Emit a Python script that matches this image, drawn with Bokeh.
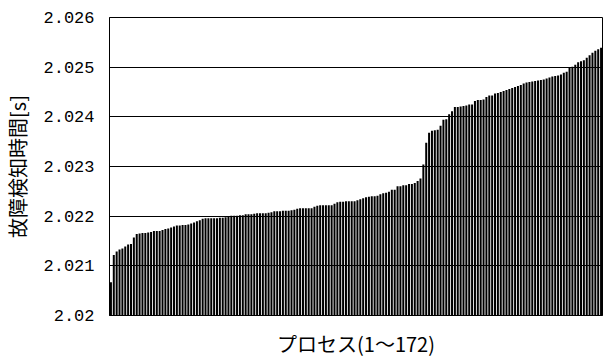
from bokeh.plotting import figure
from bokeh.models import ColumnDataSource, Range1d, FixedTicker, CustomJSTickFormatter
from bokeh.embed import file_html
from bokeh.resources import INLINE

# Fault detection time of each process, sorted ascending [s]
detect_times = [
    2.02067, 2.02122, 2.02129, 2.02133, 2.02135, 2.02139, 2.02143, 2.02144, 2.02157, 2.02164,
    2.02165, 2.02166, 2.02166, 2.02167, 2.02168, 2.02170, 2.02170, 2.02170, 2.02172, 2.02174,
    2.02175, 2.02177, 2.02179, 2.02181, 2.02181, 2.02182, 2.02182, 2.02183, 2.02185, 2.02187,
    2.02190, 2.02192, 2.02195, 2.02196, 2.02196, 2.02196, 2.02196, 2.02196, 2.02197, 2.02197,
    2.02198, 2.02199, 2.02201, 2.02201, 2.02201, 2.02202, 2.02202, 2.02204, 2.02204, 2.02204,
    2.02205, 2.02206, 2.02206, 2.02206, 2.02206, 2.02207, 2.02208, 2.02210, 2.02210, 2.02210,
    2.02211, 2.02211, 2.02211, 2.02212, 2.02213, 2.02215, 2.02216, 2.02216, 2.02216, 2.02216,
    2.02216, 2.02219, 2.02221, 2.02222, 2.02222, 2.02222, 2.02222, 2.02222, 2.02225, 2.02228,
    2.02229, 2.02229, 2.02230, 2.02230, 2.02230, 2.02230, 2.02232, 2.02234, 2.02236, 2.02238,
    2.02239, 2.02240, 2.02240, 2.02241, 2.02244, 2.02246, 2.02247, 2.02249, 2.02253, 2.02253,
    2.02260, 2.02260, 2.02262, 2.02262, 2.02265, 2.02265, 2.02267, 2.02271, 2.02276, 2.02304,
    2.02348, 2.02368, 2.02372, 2.02373, 2.02374, 2.02382, 2.02394, 2.02395, 2.02405, 2.02411,
    2.02420, 2.02420, 2.02421, 2.02422, 2.02423, 2.02425, 2.02425, 2.02432, 2.02434, 2.02434,
    2.02435, 2.02440, 2.02443, 2.02443, 2.02447, 2.02448, 2.02450, 2.02452, 2.02454, 2.02456,
    2.02458, 2.02460, 2.02462, 2.02464, 2.02467, 2.02469, 2.02470, 2.02471, 2.02472, 2.02473,
    2.02474, 2.02475, 2.02477, 2.02479, 2.02481, 2.02482, 2.02483, 2.02485, 2.02489, 2.02491,
    2.02499, 2.02501, 2.02505, 2.02510, 2.02512, 2.02514, 2.02519, 2.02524, 2.02529, 2.02533,
    2.02536, 2.02539,
]
process_ids = list(range(1, len(detect_times) + 1))
y_ticks = [2.020, 2.021, 2.022, 2.023, 2.024, 2.025, 2.026]
x_title = "プロセス(1〜172)"
y_title = "故障検知時間[s]"

source = ColumnDataSource(data=dict(x=process_ids, top=detect_times))

p = figure(
    width=603, height=360,
    output_backend="svg", toolbar_location=None,
    x_range=Range1d(0.5, len(detect_times) + 0.5),
    y_range=Range1d(y_ticks[0], y_ticks[-1]),
    min_border_left=106, min_border_right=1, min_border_top=17, min_border_bottom=44,
)
p.background_fill_color = "white"
p.border_fill_color = "white"
p.outline_line_color = "black"
p.outline_line_width = 1

p.vbar(x="x", top="top", bottom=y_ticks[0], width=0.7, source=source,
       fill_color="black", line_color=None)

# grid
p.xgrid.grid_line_color = None
p.ygrid.ticker = FixedTicker(ticks=y_ticks)
p.ygrid.grid_line_color = "black"
p.ygrid.grid_line_width = 1

# y axis
p.yaxis.ticker = FixedTicker(ticks=y_ticks)
p.yaxis.formatter = CustomJSTickFormatter(code="return String(Number(tick.toFixed(3)));")
p.yaxis.major_tick_in = 0
p.yaxis.major_tick_out = 0
p.yaxis.minor_tick_line_color = None
p.yaxis.axis_line_color = "black"
p.yaxis.major_label_text_font = "Liberation Mono"
p.yaxis.major_label_text_font_size = "17px"
p.yaxis.major_label_text_color = "black"
p.yaxis.major_label_standoff = 15
p.yaxis.axis_label = y_title
p.yaxis.axis_label_text_font = "Noto Sans CJK JP"
p.yaxis.axis_label_text_font_size = "20px"
p.yaxis.axis_label_text_font_style = "normal"
p.yaxis.axis_label_text_color = "black"
p.yaxis.axis_label_standoff = 8

# x axis
p.xaxis.ticker = FixedTicker(ticks=[])
p.xaxis.major_tick_line_color = None
p.xaxis.minor_tick_line_color = None
p.xaxis.major_label_text_font_size = "0px"
p.xaxis.axis_line_color = "black"
p.xaxis.axis_label = x_title
p.xaxis.axis_label_text_font = "Noto Sans CJK JP"
p.xaxis.axis_label_text_font_size = "20px"
p.xaxis.axis_label_text_font_style = "normal"
p.xaxis.axis_label_text_color = "black"
p.xaxis.axis_label_standoff = 13

open("out.html", "w").write(file_html(p, INLINE))
